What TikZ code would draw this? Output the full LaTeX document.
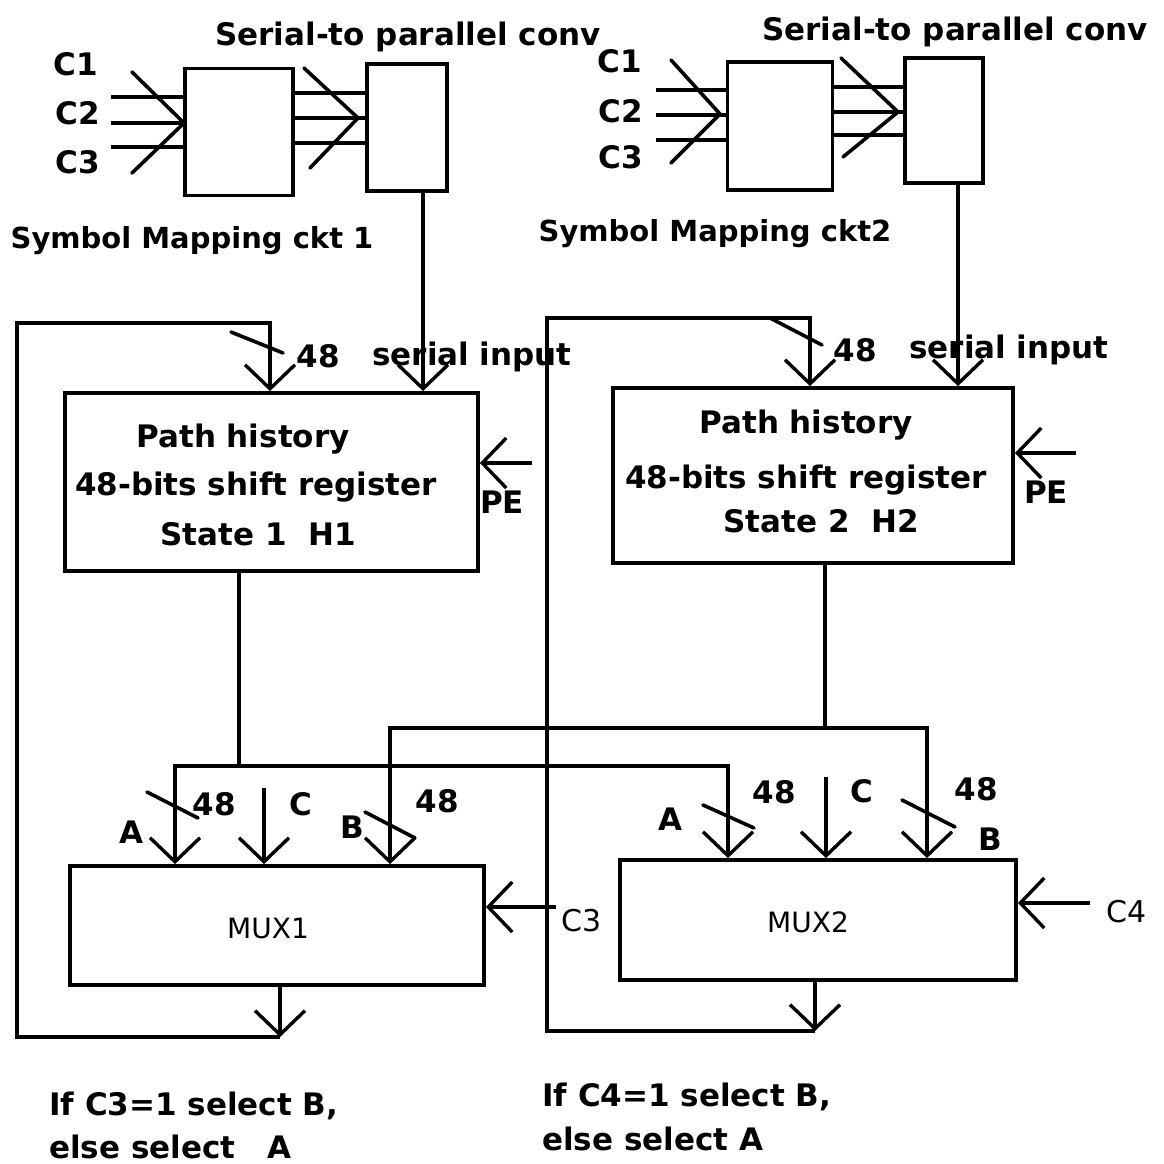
\documentclass[tikz,border=0pt]{standalone}
\usepackage{fontspec}
\setmainfont{DejaVu Sans}
\usetikzlibrary{arrows.meta}
\begin{document}
\begin{tikzpicture}[x=1pt,y=-1pt,
  box/.style={draw, line width=3.8pt, inner sep=0pt, rectangle},
  wire/.style={line width=3.4pt, line join=miter},
  arr/.style={wire, -{Straight Barb[length=24pt,width=50pt]}},
  slash/.style={line width=3.6pt, line cap=round, line join=round},
  lbl/.style={font=\fontsize{31}{31}\selectfont\bfseries, inner sep=0pt, anchor=base},
  slbl/.style={font=\fontsize{29}{29}\selectfont\bfseries, inner sep=0pt, anchor=base},
  lblw/.style={lbl, anchor=base west},
  muxlbl/.style={font=\fontsize{28}{28}\selectfont, inner sep=0pt, anchor=base},
  clbl/.style={font=\fontsize{30}{30}\selectfont, inner sep=0pt, anchor=base},
]
\useasboundingbox (0,0) rectangle (1163,1164);

% ---------- boxes ----------
\node[box, minimum width=108pt, minimum height=127pt] (sm1) at (239,132) {};
\node[box, minimum width=80pt, minimum height=127pt] (sp1) at (407,127.5) {};
\node[box, minimum width=105pt, minimum height=128pt] (sm2) at (780,126) {};
\node[box, minimum width=78pt, minimum height=125pt] (sp2) at (944,120.5) {};
\node[box, minimum width=413pt, minimum height=178pt] (ph1) at (271.5,482) {};
\node[box, minimum width=400pt, minimum height=175pt] (ph2) at (813,475.5) {};
\node[box, minimum width=414pt, minimum height=119pt] (mux1) at (277,925.5) {};
\node[box, minimum width=396pt, minimum height=120pt] (mux2) at (818,920) {};

% ---------- top texts ----------
\node[lbl] (tsp1) at (408,46) {Serial-to parallel conv};
\node[lbl] (tsp2) at (955,41) {Serial-to parallel conv};
\node[lbl] (lc11) at (76,75) {C1};
\node[lbl] (lc12) at (78,124) {C2};
\node[lbl] (lc13) at (78,173) {C3};
\node[lbl] (lc21) at (620,73) {C1};
\node[lbl] (lc22) at (621,122) {C2};
\node[lbl] (lc23) at (621,168) {C3};
\node[slbl] (tsm1) at (192,248) {Symbol Mapping ckt 1};
\node[slbl] (tsm2) at (715,241) {Symbol Mapping ckt2};

% ---------- inputs to symbol mapping 1 ----------
\coordinate (i11) at (111,97);
\coordinate (i12) at (111,123);
\coordinate (i13) at (111,147);
\draw[wire] (i11) -- (i11 -| sm1.west);
\draw[wire] (i12) -- (i12 -| sm1.west);
\draw[wire] (i13) -- (i13 -| sm1.west);
\draw[slash] (132,72) -- (184,123) -- (132,173);
\coordinate (m11) at (0,93);
\coordinate (m12) at (0,118);
\coordinate (m13) at (0,143);
\draw[wire] (m11 -| sm1.east) -- (m11 -| sp1.west);
\draw[wire] (m12 -| sm1.east) -- (m12 -| sp1.west);
\draw[wire] (m13 -| sm1.east) -- (m13 -| sp1.west);
\draw[slash] (304,68) -- (358,118) -- (310,168);

% ---------- inputs to symbol mapping 2 ----------
\coordinate (i21) at (656,90);
\coordinate (i22) at (656,115);
\coordinate (i23) at (656,140);
\draw[wire] (i21) -- (i21 -| sm2.west);
\draw[wire] (i22) -- (i22 -| sm2.west);
\draw[wire] (i23) -- (i23 -| sm2.west);
\draw[slash] (671,60) -- (720,114) -- (671,163);
\coordinate (m21) at (0,87);
\coordinate (m22) at (0,112);
\coordinate (m23) at (0,135);
\draw[wire] (m21 -| sm2.east) -- (m21 -| sp2.west);
\draw[wire] (m22 -| sm2.east) -- (m22 -| sp2.west);
\draw[wire] (m23 -| sm2.east) -- (m23 -| sp2.west);
\draw[slash] (841,58) -- (898,112) -- (843,157);

% ---------- serial inputs ----------
\coordinate (s1) at (423,0);
\draw[arr] (s1 |- sp1.south) -- (s1 |- ph1.north);
\coordinate (s2) at (958,0);
\draw[arr] (s2 |- sp2.south) -- (s2 |- ph2.north);

% ---------- path history texts ----------
\node[lbl] (ph1a) at (243,447) {Path history};
\node[lbl] (ph1b) at (256,495) {48-bits shift register};
\node[lbl] (ph1c) at (258,545) {State 1\ \ H1};
\node[lbl] (ph2a) at (806,433) {Path history};
\node[lbl] (ph2b) at (806,488) {48-bits shift register};
\node[lbl] (ph2c) at (821,532) {State 2\ \ H2};
\node[lbl] (n48a) at (318,367) {48};
\node[lbl] (sin1) at (472,365) {serial input};
\node[lbl] (n48b) at (855,361) {48};
\node[lbl] (sin2) at (1009,358) {serial input};
\node[lbl] (pe1t) at (502,513) {PE};
\node[lbl] (pe2t) at (1046,503) {PE};

% ---------- PE ----------
\coordinate (pe1) at (532,463);
\draw[arr] (pe1) -- (pe1 -| ph1.east);
\coordinate (pe2) at (1076,453);
\draw[arr] (pe2) -- (pe2 -| ph2.east);

% ---------- feedback loop 1 ----------
\coordinate (l1a) at (280,1037);
\coordinate (l1b) at (17,1037);
\coordinate (l1c) at (17,323);
\coordinate (l1d) at (270,323);
\draw[arr] (l1a |- mux1.south) -- (l1a);
\draw[arr] (l1a) -- (l1b) -- (l1c) -- (l1d) -- (l1d |- ph1.north);
\draw[slash] (231,332) -- (283,353);

% ---------- feedback loop 2 ----------
\coordinate (l2a) at (815,1031);
\coordinate (l2b) at (547,1031);
\coordinate (l2c) at (547,318);
\coordinate (l2d) at (810,318);
\draw[arr] (l2a |- mux2.south) -- (l2a);
\draw[arr] (l2a) -- (l2b) -- (l2c) -- (l2d) -- (l2d |- ph2.north);
\draw[slash] (770,318) -- (822,345);

% ---------- bus 1 (H1 -> A inputs) ----------
\coordinate (j1) at (239,766);
\coordinate (a1) at (175,766);
\coordinate (a2) at (728,766);
\draw[wire] (j1 |- ph1.south) -- (j1);
\draw[arr] (j1) -- (a1) -- (a1 |- mux1.north);
\draw[arr] (j1) -- (a2) -- (a2 |- mux2.north);

% ---------- bus 2 (H2 -> B inputs) ----------
\coordinate (j2) at (825,728);
\coordinate (b1) at (390,728);
\coordinate (b2) at (927,728);
\draw[wire] (j2 |- ph2.south) -- (j2);
\draw[arr] (j2) -- (b1) -- (b1 |- mux1.north);
\draw[arr] (j2) -- (b2) -- (b2 |- mux2.north);

% ---------- C inputs ----------
\coordinate (cc1) at (264,788);
\draw[arr] (cc1) -- (cc1 |- mux1.north);
\coordinate (cc2) at (826,777);
\draw[arr] (cc2) -- (cc2 |- mux2.north);

% ---------- bus slashes ----------
\draw[slash] (147,792) -- (198,818);
\draw[slash] (365,812) -- (415,838);
\draw[slash] (703,805) -- (754,828);
\draw[slash] (902,800) -- (955,827);

% ---------- select inputs ----------
\coordinate (c3) at (556,907);
\draw[arr] (c3) -- (c3 -| mux1.east);
\coordinate (c4) at (1090,903);
\draw[arr] (c4) -- (c4 -| mux2.east);
\node[clbl] (c3t) at (582,931) {C3};
\node[clbl] (c4t) at (1127,922) {C4};

% ---------- MUX texts ----------
\node[muxlbl] (mux1t) at (268,938) {MUX1};
\node[muxlbl] (mux2t) at (808,932) {MUX2};
\node[lbl] (m1A) at (131,843) {A};
\node[lbl] (m1n48) at (214,815) {48};
\node[lbl] (m1C) at (301,815) {C};
\node[lbl] (m1B) at (352,838) {B};
\node[lbl] (m1n48b) at (437,812) {48};
\node[lbl] (m2A) at (670,830) {A};
\node[lbl] (m2n48) at (774,803) {48};
\node[lbl] (m2C) at (862,802) {C};
\node[lbl] (m2n48b) at (976,800) {48};
\node[lbl] (m2B) at (990,850) {B};

% ---------- bottom notes ----------
\node[lblw] (note1a) at (49,1115) {If C3=1 select B,};
\node[lblw] (note1b) at (49,1158) {else select\ \ \ A};
\node[lblw] (note2a) at (542,1106) {If C4=1 select B,};
\node[lblw] (note2b) at (542,1150) {else select A};
\end{tikzpicture}
\end{document}
